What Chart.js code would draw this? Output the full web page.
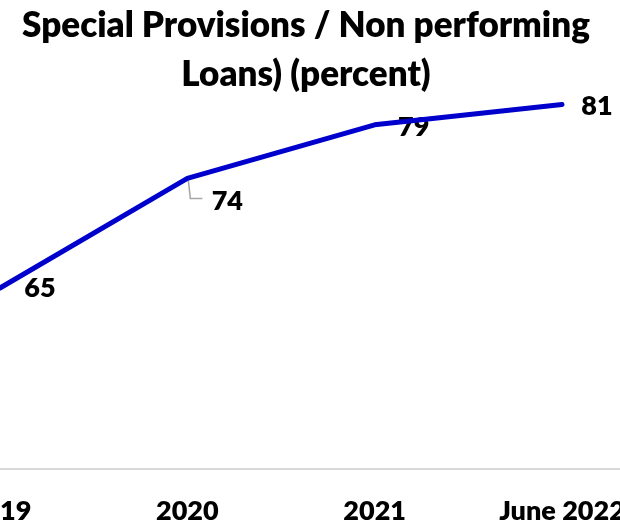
<!DOCTYPE html>
<html>
<head>
<meta charset="utf-8">
<script src="https://cdn.jsdelivr.net/npm/chart.js@4/dist/chart.umd.min.js"></script>
<style>
  body { margin: 0; background: #fff; }
  canvas { display: block; }
</style>
</head>
<body>
<canvas id="myChart" width="620" height="526"></canvas>
<script>
"use strict";
// values
const categories = ['2019', '2020', '2021', 'June 2022'];
const provisionRatio = [65.2, 74.4, 78.9, 80.6];

// where each value label sits relative to its point (px)
const labelOffsets = [[40, 0], [40, 23], [39, 2], [35, 2]];

// grey axis line right across the picture, and the value labels
const decorations = {
  id: 'decorations',
  beforeDatasetsDraw(chart) {
    const ctx = chart.ctx;
    const xScale = chart.scales.x;
    ctx.save();
    ctx.strokeStyle = '#d9d9d9';
    ctx.lineWidth = 2;
    ctx.beginPath();
    ctx.moveTo(0, xScale.top);
    ctx.lineTo(chart.width, xScale.top);
    ctx.stroke();

    const meta = chart.getDatasetMeta(0);
    ctx.font = '800 27px Lato';
    ctx.fillStyle = '#000';
    ctx.textAlign = 'center';
    ctx.textBaseline = 'middle';
    for (let i = 0; i < meta.data.length; i++) {
      const pt = meta.data[i];
      const lx = pt.x + labelOffsets[i][0];
      const ly = pt.y + labelOffsets[i][1];
      if (labelOffsets[i][1] > 10) {
        // leader line
        ctx.strokeStyle = '#a6a6a6';
        ctx.lineWidth = 1.5;
        ctx.beginPath();
        ctx.moveTo(pt.x + 1, pt.y + 2);
        ctx.lineTo(pt.x + 3, ly - 3);
        ctx.lineTo(pt.x + 15, ly - 3);
        ctx.stroke();
      }
      ctx.fillText(String(Math.round(chart.data.datasets[0].data[i])), lx, ly);
    }
    ctx.restore();
  }
};

let myChart = document.getElementById('myChart').getContext('2d');
var provChart = new Chart(myChart, {
  type: 'line',
  data: {
    labels: categories,
    datasets: [{
      label: 'Special Provisions / NPL',
      data: provisionRatio,
      borderColor: '#0000cc',
      borderWidth: 5,
      borderCapStyle: 'round',
      borderJoinStyle: 'round',
      tension: 0,
      pointRadius: 0,
      clip: false
    }]
  },
  options: {
    responsive: false,
    animation: false,
    layout: {
      padding: { left: 0, right: 8, top: 0, bottom: 0 }
    },
    plugins: {
      legend: { display: false },
      tooltip: { enabled: false },
      title: {
        display: true,
        text: ['Special Provisions / Non performing', 'Loans) (percent)'],
        color: '#000',
        font: { family: 'Lato', size: 35, weight: 800, lineHeight: 1.38 },
        padding: { top: 2, bottom: 0 }
      }
    },
    scales: {
      x: {
        grid: { display: false, drawTicks: false },
        border: { display: false },
        ticks: {
          color: '#000',
          padding: 26,
          maxRotation: 0,
          font: { family: 'Lato', size: 27, weight: 800 }
        },
        afterFit(scale) {
          // the picture is cropped: first label runs off the left edge,
          // room kept on the right for the last value label
          scale.paddingLeft = 0;
          scale.paddingRight = 58;
          scale.height = 57;
        }
      },
      y: {
        display: false,
        min: 50,
        max: 81.1
      }
    }
  },
  plugins: [decorations]
});
</script>
</body>
</html>
